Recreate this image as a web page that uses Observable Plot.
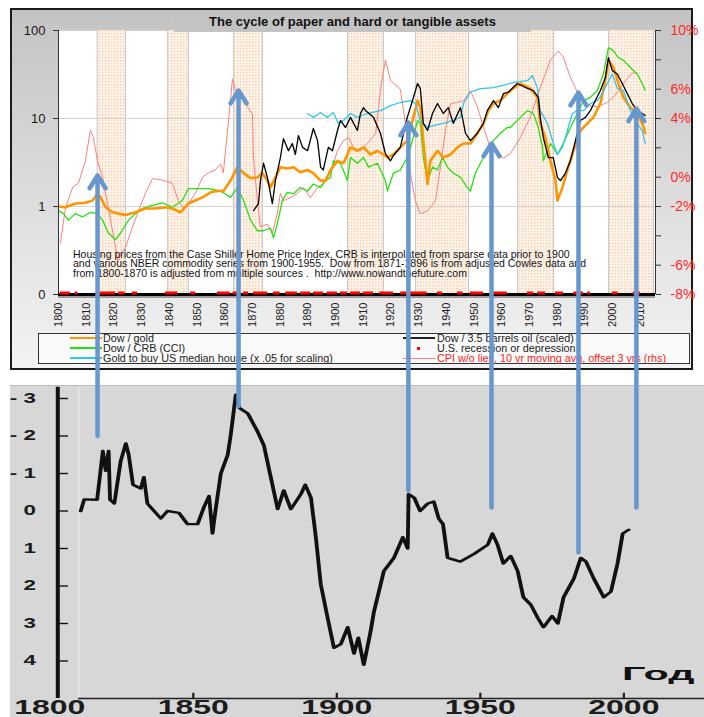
<!DOCTYPE html>
<html><head><meta charset="utf-8">
<script src="https://cdn.jsdelivr.net/npm/d3@7"></script>
<script src="https://cdn.jsdelivr.net/npm/@observablehq/plot@0.6"></script>
<style>
html,body{margin:0;padding:0;background:#fff;overflow:hidden;}
#root{position:relative;width:704px;height:717px;font-family:"Liberation Sans",Arial,sans-serif;}
.leg{font-size:10.8px;line-height:10px;color:#222;white-space:nowrap;}
</style></head><body><div id="root"></div>
<script>
// ---------- DATA (top chart) ----------
const decadeTicks = [1800,1810,1820,1830,1840,1850,1860,1870,1880,1890,1900,1910,1920,1930,1940,1950,1960,1970,1980,1990,2000,2010];
const leftTicks = [0.1, 1, 10, 100];
const leftTickLabels = ["0", "1", "10", "100"];
const cpiTicks = [-8,-6,-4,-2,0,2,4,6,8,10];

const bandStart = [1814,1839.4,1863.2,1904.3,1928.9,1965.7,1998.6];
const bandEnd   = [1824.2,1846.9,1873.6,1917.3,1948,1978.7,2014.8];

const recStart = [1800.7,1806,1815,1821.7,1826.7,1838.6,1847.7,1857.4,1863,1866.8,1870.4,1877.6,1882,1887.4,1892,1897,1901.8,1905.4,1910,1916,1923.5,1936.8,1944,1948.7,1956,1969.3,1973,1979.4,1986,1991,2000,2007.5];
const recEnd   = [1804.3,1807,1820.6,1824,1828.5,1843,1849.5,1862,1865,1868.6,1875.5,1880,1886.3,1891,1895.7,1900.7,1904.3,1909,1913.7,1921,1933,1938.6,1946,1953.4,1962,1971.5,1975.8,1982.3,1989.5,1992,2002,2010];

const orangeYears = [1800,1802.5,1806.1,1809.7,1812.3,1814.1,1815.2,1817,1819.5,1821.7,1824.2,1827.8,1831.4,1835,1838.6,1841.1,1844,1846.9,1849.4,1852,1854.9,1857.4,1859.5,1862.1,1864.6,1866.8,1869.3,1871.8,1873.6,1875.4,1876.5,1878.3,1880.1,1882.6,1884.8,1887.3,1889.9,1892,1894.6,1896.4,1898.2,1900.7,1902.9,1905.4,1907.9,1910.1,1912.6,1915.1,1917.3,1918.7,1920.9,1923.4,1925.9,1928.1,1929.6,1930.6,1931.7,1933.2,1934.2,1936.8,1938.9,1941.5,1944,1946.2,1948.7,1951.2,1953.4,1955.2,1957,1959.5,1962,1964.2,1966.7,1970.3,1972.9,1973.9,1975.7,1977.6,1979.4,1980.1,1981.9,1983.7,1985.9,1988.4,1990.9,1993.1,1995.6,1997.4,1998.5,2000.3,2002.1,2003.9,2006.4,2008.9,2010.7,2011.8];
const orangeValues = [1.0,0.98,1.08,1.1,1.17,1.4,1.27,0.98,0.86,0.83,0.8,0.86,0.95,0.95,0.98,0.95,0.86,1.08,1.17,1.27,1.45,1.5,1.5,1.97,2.8,2.4,2.1,2.14,2.4,1.97,1.64,2.14,2.8,2.7,2.8,2.45,2.6,2.4,1.97,1.97,2.6,3.3,3.1,4.7,4.3,4.7,3.9,4.3,3.9,3.6,3.9,4.7,5.6,10.3,16,13.3,5.6,1.8,3.3,4.3,3.6,3.9,4.7,5.2,5.2,6.8,8.8,12.3,14.8,16,19.2,22,25,22,17.4,8.8,6.1,3.3,1.97,1.17,1.64,2.6,4.3,7.3,8.8,10.3,14.8,27,46,38,25,17.4,13.3,11.4,8.8,6.8];

const greenYears = [1800,1801.8,1803.6,1806.1,1808.7,1811.5,1814.1,1815.9,1818,1820.6,1822.4,1825.3,1827.8,1830.3,1833.9,1837.5,1841.1,1844.7,1846.9,1850.5,1854.1,1858.5,1862.1,1864.6,1866.8,1869.3,1871.8,1874,1876.5,1877.6,1879,1880.8,1882.6,1884.8,1887.3,1889.9,1892,1894.6,1896.4,1898.2,1899.2,1901.8,1904.3,1905.4,1907.9,1910.1,1911.9,1915.1,1918,1918.7,1920.9,1923.4,1925.9,1928.1,1929.6,1930.6,1931.7,1933.2,1935,1936.8,1938.6,1940.4,1942.5,1945.1,1947.6,1948.7,1950.5,1952.3,1954.8,1957,1959.5,1962,1963.1,1966.7,1969.3,1971.4,1973.2,1974.7,1975,1977.6,1980.1,1982.2,1984.8,1987.3,1989.5,1992,1994.5,1996.7,1998.5,2000.3,2002.1,2003.9,2006.4,2008.9,2010.7,2011.8];
const greenValues = [0.9,0.83,0.7,0.83,0.76,0.86,0.83,0.7,0.5,0.42,0.5,0.7,0.83,0.95,1.03,1.1,0.98,1.17,1.6,1.6,1.6,1.5,1.27,1.64,1.17,0.7,0.53,0.53,0.57,0.44,0.64,1.17,1.45,1.4,1.64,1.5,1.8,1.64,1.97,2.14,3.3,3.1,1.97,3.6,3.1,3.6,2.8,3.1,1.97,1.5,2.4,2.6,3.6,6.1,9.5,8.8,3.6,1.97,2.8,2.6,3.6,2.8,2.4,2.14,1.64,1.5,2.4,3.1,4.3,5.6,6.8,7.9,7.9,10.3,12.3,11.4,7.9,4.7,3.3,5.2,3.9,5.2,7.9,11.4,16,17.4,20.8,32,64,59,49,46,38,32,25,20.8];

const blackYears = [1870.4,1872.2,1872.9,1874,1875.4,1876.5,1877.2,1878.3,1880.1,1881.2,1883,1884.4,1885.5,1886.6,1888.1,1889.9,1892,1893.5,1894.6,1895.6,1897.4,1898.9,1900.7,1901.8,1903.6,1905.4,1907.9,1909,1910.1,1910.8,1913.7,1916.2,1918,1919.8,1920.9,1923.4,1925.9,1927.8,1929.6,1930.6,1931.7,1933.2,1935,1936.8,1938.9,1940.7,1942.5,1945.1,1946.9,1948.7,1951.2,1953.4,1954.8,1957,1958.8,1960.6,1962.4,1965.6,1969.3,1971.4,1973.2,1973.9,1975,1976.8,1978.6,1980.1,1981.2,1983,1984.8,1986.6,1988.4,1990.2,1992,1993.8,1995.6,1997.4,1998.5,1999.9,2001.7,2003.5,2005.3,2007.1,2008.9,2010.7,2011.8];
const blackValues = [0.9,1.08,1.97,3.1,2.14,1.4,1.08,1.97,3.6,5.9,4.3,5.2,3.9,6.4,4.7,4.3,7.7,5.6,2.8,2.6,4.7,4.3,7.3,9.5,7.9,10.3,7.3,11.4,13.3,12.3,10.3,6.8,4.0,3.3,3.8,4.7,10.3,16,25,22,8.8,7.3,11.4,14.8,11.4,13.3,8.8,13.3,6.8,5.6,6.8,8.8,12.3,16,13.3,19.2,20,25,22,20.8,17.4,10.3,6.1,3.6,3.6,2.14,1.97,2.4,3.3,5.6,9.5,10.3,12.3,16,20.8,29.3,49,35,32,25,19.2,14.8,12.3,11.4,10.8];

const cyanYears = [1889.9,1892,1894.6,1897.1,1899.2,1901,1902.9,1905.4,1907.9,1911.5,1916.2,1919.8,1923.4,1927,1928.8,1930.6,1933.2,1935.3,1938.9,1942.5,1945.1,1946.2,1948.7,1952.3,1957,1963.1,1964.2,1969.3,1971.1,1972.9,1973.9,1976.5,1978.3,1980.1,1981.9,1983.7,1985.5,1987.3,1989.5,1992,1994.5,1996.3,1998.1,1999.9,2001.7,2003.9,2006.4,2008.9,2010.7,2011.8];
const cyanValues = [11.4,10.3,11.7,10.3,11.7,8.8,9.5,11.4,10.3,11.4,12.3,14,15.2,16,14.8,9.5,7.9,8.3,8.8,9.5,10.3,14.8,20,21.9,22.4,25,25.7,27,30.8,22,12.3,8.8,5.6,3.9,4.7,7.3,11.4,12.3,12.3,14.8,16,19.2,25,32,22,20.8,12.3,8.8,7.3,5.2];

const cpiYears = [1800.7,1802.5,1805.1,1807.2,1809.7,1811.5,1812.6,1814.1,1815.9,1818,1820.6,1821.5,1822.4,1824.2,1826.7,1828.9,1831.4,1833.9,1837.5,1841.1,1843.3,1845.1,1846.9,1849.4,1852,1854.1,1856.7,1858.5,1859.5,1861.3,1862.8,1863.9,1865.7,1868.2,1870,1870.4,1871.8,1872.9,1875.4,1877.2,1879,1880.1,1881.2,1883.7,1886.3,1888.4,1890.9,1893.5,1895.6,1898.2,1900.7,1902.9,1904.7,1906.5,1909,1911.5,1914.5,1916.2,1918,1919.8,1923.4,1925.2,1927,1928.8,1930.6,1933.2,1936.1,1937.9,1939.7,1941.5,1944,1946.2,1948.7,1951.2,1953.4,1955.9,1958.4,1960.6,1963.1,1966.7,1970.3,1973.9,1977.6,1980.4,1982.2,1984.8,1987.3,1990.9,1994.5,1998.1,2001,2003.9,2007.1,2008.2];
const cpiValues = [-4.5,-2.1,-0.7,-0.4,1.1,3.2,2.7,1.1,0,-2.1,-4.8,-5.8,-5.2,-4.8,-3.4,-2.3,-1.1,-0.1,-0.2,-0.4,-1.6,-2.1,-1.8,-1.1,0,0.3,0.5,0.9,0.3,3.7,6.7,5.9,5.7,4.8,4.3,1.3,-1.6,-3.4,-3.2,-3.8,-2.5,-1.1,-1.6,-1.4,-1.1,-0.7,-1.4,-0.7,-0.4,0.3,1.8,2.5,2.7,2.0,1.8,2.3,3.0,5.9,8.0,6.6,6.0,3.7,0.3,-1.6,-2.5,-2.3,-1.6,0.7,3.2,5.0,5.1,5.2,5.9,4.8,3.4,2.0,1.6,1.3,1.6,2.7,4.1,6.1,8.0,8.6,8.2,6.8,5.8,4.9,4.8,5.1,5.6,6.4,7.1,7.1];

// ---------- DATA (bottom chart) ----------
const bottomXTicks = [1800, 1850, 1900, 1950, 2000];
const bottomYTicks = [-3,-2,-1,0,1,2,3,4];
const bottomYears = [1810.8,1812,1816.5,1818.5,1819.5,1820.5,1821,1822.5,1824.7,1826.5,1827.5,1829,1831.7,1832.8,1834,1838.7,1841,1845,1848,1851.5,1853.7,1855.5,1856.7,1857.8,1859.6,1862,1863,1864.8,1866,1869,1872.5,1874.6,1877,1879.4,1881.5,1884,1887.5,1889,1891,1892.7,1894.4,1896.8,1899,1901.4,1903.8,1906,1907.5,1909.4,1911.8,1912.9,1916.4,1919.9,1923,1924.7,1925,1927,1929,1931.7,1933.8,1935.5,1937,1938.6,1943,1947.7,1952.6,1954.2,1956,1958,1960.6,1963,1965,1967.6,1970,1972,1975,1977,1979,1982.6,1985,1986.8,1989.5,1993,1995.5,1997.8,1999.6,2001.7];
const bottomValues = [0,-0.31,-0.3,-1.6,-1.07,-1.6,-0.3,-0.2,-1.33,-1.8,-1.5,-0.7,-0.6,-0.9,-0.2,0.2,0,0.05,0.35,0.35,-0.1,-0.4,0.6,-0.05,-1.0,-1.5,-2.0,-3.1,-2.75,-2.6,-2.1,-1.75,-0.9,-0.05,-0.55,-0.05,-0.45,-0.7,-0.35,0.7,1.95,2.85,3.65,3.55,3.1,3.8,3.38,4.1,3.2,2.7,1.6,1.25,0.7,1.0,-0.45,-0.35,0,-0.2,-0.25,0.2,0.35,1.25,1.35,1.15,0.9,0.6,0.9,1.4,1.2,1.6,2.3,2.5,2.85,3.1,2.8,3.0,2.3,1.8,1.25,1.35,1.8,2.3,2.15,1.4,0.6,0.5];

// ---------- DATA (arrows linking both charts) ----------
const arrowYears = [1814.1, 1865.0, 1926.3, 1956.3, 1987.7, 2008.6];   // top-chart years
const arrowTips  = [2.25, 20.8, 9.0, 5.2, 19.7, 13];                  // top-chart (log) values
const arrowBases = [-2.0, -2.8, -0.55, -0.1, 1.1, -0.1];              // bottom-chart values

// ---------- helpers ----------
const pts = (xs, ys) => xs.slice(0, Math.min(xs.length, ys.length)).map((x, i) => ({x, y: ys[i]}));
const toLog = p => Math.pow(10, -1 + (p + 8) / 6);          // rhs % -> lhs log position
const fromLog = v => Math.round((Math.log10(v) + 1) * 6 - 8);
const FONT = "Liberation Sans, Arial, sans-serif";
const root = document.getElementById("root");
function div(style, html, cls) { const d = document.createElement("div"); if (cls) d.className = cls; d.style.cssText = "position:absolute;" + style; if (html != null) d.innerHTML = html; root.appendChild(d); return d; }

// ---------- top panel background ----------
div("left:10px;top:8px;width:683px;height:362px;box-sizing:border-box;border:2px solid #1b1b1b;background:linear-gradient(to bottom,#c3c3c3 0%,#d9d9d9 45%,#f3f3f3 100%);");

// ---------- top chart ----------
const topChart = Plot.plot({
  width: 704, height: 330,
  marginLeft: 58, marginRight: 49, marginTop: 30, marginBottom: 36,
  x: {domain: [1800, 2015.5]},
  y: {type: "log", domain: [0.1, 100]},
  style: {background: "transparent", fontFamily: FONT, color: "#1a1a1a", overflow: "visible"},
  marks: [
    Plot.frame({fill: "white", stroke: "#d0d0d0"}),
    Plot.rect(bandStart, {x1: d => d, x2: (d, i) => bandEnd[i], fill: "#fbe8d6"}),
    Plot.ruleX(bandStart.concat(bandEnd), {stroke: "#c6c6c6", strokeWidth: 1}),
    Plot.ruleY([1, 10], {stroke: "#d2d2d2"}),
    Plot.line(pts(cpiYears, cpiValues), {x: "x", y: d => toLog(d.y), stroke: "#ff7d7d", strokeWidth: 1}),
    Plot.line(pts(greenYears, greenValues), {x: "x", y: "y", stroke: "#25e010", strokeWidth: 1.3}),
    Plot.line(pts(orangeYears, orangeValues), {x: "x", y: "y", stroke: "#ff9500", strokeWidth: 2.6}),
    Plot.line(pts(cyanYears, cyanValues), {x: "x", y: "y", stroke: "#2ec6f2", strokeWidth: 1.3}),
    Plot.line(pts(blackYears, blackValues), {x: "x", y: "y", stroke: "#000", strokeWidth: 1.3}),
    Plot.ruleX([1800], {stroke: "#333"}),
    Plot.ruleX([2015.5], {stroke: "#333"}),
    Plot.ruleY([0.1], {stroke: "#9a9a9a", strokeWidth: 2, dy: 2.5}),
    Plot.ruleY([0.1], {stroke: "#000", strokeWidth: 3}),
    Plot.ruleY(recStart, {x1: d => d, x2: (d, i) => recEnd[i], y: 0.1, dy: -1.5, stroke: "#ff0000", strokeWidth: 3}),
    Plot.axisY(leftTicks, {anchor: "left", label: null, tickSize: 5, tickPadding: 8, fontSize: 13, tickFormat: d => leftTickLabels[leftTicks.indexOf(d)], stroke: "#333", fill: "#1a1a1a"}),
    Plot.axisY(cpiTicks.map(toLog), {anchor: "right", label: null, tickSize: 5, tickPadding: 10, fontSize: 14, tickFormat: d => fromLog(d) + "%", stroke: "#333", fill: "#ff2a2a"}),
    Plot.axisX(decadeTicks, {anchor: "bottom", label: null, tickRotate: -90, tickSize: 0, tickPadding: 8, fontSize: 11, tickFormat: d => `${d}`, fill: "#222"})
  ]
});
topChart.style.position = "absolute"; topChart.style.left = "0px"; topChart.style.top = "0px";
root.appendChild(topChart);
// dotted texture for the shaded bands
(function () {
  const ns = "http://www.w3.org/2000/svg";
  const defs = document.createElementNS(ns, "defs");
  defs.innerHTML = '<pattern id="dots" width="3" height="3" patternUnits="userSpaceOnUse"><rect width="3" height="3" fill="#fdf3ea"/><rect width="1.3" height="1.3" fill="#f7cda6"/></pattern>';
  topChart.insertBefore(defs, topChart.firstChild);
  topChart.querySelectorAll('g[aria-label="rect"] rect').forEach(r => r.setAttribute("fill", "url(#dots)"));
})();

// title
div("left:174px;top:11px;width:357px;height:21px;background:#c3c3c3;font:bold 13px " + FONT + ";line-height:21px;text-align:center;color:#111;",
    "The cycle of paper and hard or tangible assets");
// note
div("left:73px;top:250px;font-size:10.5px;line-height:9.4px;color:#141414;white-space:pre;",
    "Housing prices from the Case Shiller Home Price Index, CRB is interpolated from sparse data prior to 1900\nand various NBER commodity series from 1900-1955.  Dow from 1871-1896 is from adjusted Cowles data and\nfrom 1800-1870 is adjusted from multiple sources .  http://www.nowandthefuture.com");

// legend
div("left:38px;top:333px;width:652px;height:31px;box-sizing:border-box;border:1px solid #333;background:rgba(255,255,255,0.6);");
const legendRows = [338, 348, 358];
const legendLeft = [["Dow / gold", "#ff9500", 1.6], ["Dow / CRB (CCI)", "#25e010", 1.3], ["Gold to buy US median house (x .05 for scaling)", "#2ec6f2", 1.3]];
legendLeft.forEach(([t, c, w], i) => {
  div(`left:70px;top:${legendRows[i] - w / 2}px;width:32px;height:${w}px;background:${c};`);
  div(`left:103px;top:${legendRows[i] - 5}px;`, t, "leg");
});
div(`left:403px;top:${legendRows[0] - 0.6}px;width:32px;height:1.2px;background:#222;`);
div(`left:437px;top:${legendRows[0] - 5}px;`, "Dow / 3.5 barrels oil (scaled)", "leg");
div(`left:417px;top:${legendRows[1] - 1.5}px;width:3px;height:3px;background:#ff0000;`);
div(`left:437px;top:${legendRows[1] - 5}px;`, "U.S. recession or depression", "leg");
div(`left:403px;top:${legendRows[2] - 0.5}px;width:32px;height:1px;background:#ff7d7d;`);
div(`left:437px;top:${legendRows[2] - 5}px;color:#ff1a1a;`, "CPI w/o lies, 10 yr moving avg, offset 3 yrs (rhs)", "leg");

// ---------- bottom chart (drawn narrow, stretched horizontally like the source) ----------
const STRETCH = 1.6, BOTTOM_TOP = 385;
div(`left:10px;top:${BOTTOM_TOP}px;width:694px;height:332px;background:#d7d7d7;border-top:1px solid #bdbdbd;box-sizing:border-box;`);
const spineYear = 1802.8, plotStartYear = 1810.1;
const bottomChart = Plot.plot({
  width: 440, height: 332,
  marginLeft: 30.6, marginRight: 0, marginTop: 1.75, marginBottom: 19,
  x: {domain: [1800, 2028.2]},
  y: {domain: [-3.3, 5.0], reverse: true},
  style: {background: "transparent", fontFamily: FONT, color: "#151515", overflow: "visible"},
  marks: [
    Plot.ruleX([plotStartYear], {stroke: "#e6e6e6", strokeWidth: 1}),
    Plot.ruleY([5.0], {x1: plotStartYear, x2: 2028.2, stroke: "#222", strokeWidth: 1.3}),
    Plot.ruleX(bottomXTicks.slice(1), {y1: 5.0, y2: 4.86, stroke: "#222", strokeWidth: 1.4}),
    Plot.axisX(bottomXTicks, {anchor: "bottom", label: null, tickSize: 0, tickPadding: 1, fontSize: 20, fontWeight: "bold", tickFormat: d => `${d}`, fill: "#1c1c1c"}),
    Plot.ruleX([spineYear], {stroke: "#111", strokeWidth: 2.5}),
    Plot.ruleY(bottomYTicks, {x1: spineYear, x2: spineYear + 3.8, stroke: "#111", strokeWidth: 1.4}),
    Plot.axisY(bottomYTicks, {anchor: "left", label: null, tickSize: 0, tickPadding: 8.7, fontSize: 14, fontWeight: "bold", tickFormat: d => d < 0 ? "- " + (-d) : `${d}`, fill: "#1c1c1c"}),
    Plot.line(pts(bottomYears, bottomValues), {x: "x", y: "y", stroke: "#111", strokeWidth: 2.4})
  ]
});
bottomChart.style.position = "absolute"; bottomChart.style.left = "0px"; bottomChart.style.top = BOTTOM_TOP + "px";
bottomChart.style.transformOrigin = "0 0"; bottomChart.style.transform = `scaleX(${STRETCH})`; bottomChart.style.maxWidth = "none";
root.appendChild(bottomChart);
div(`left:622px;top:665px;font:bold 18px ${FONT};line-height:18px;color:#111;transform-origin:0 0;transform:scaleX(2.3);`, "Год");

// ---------- arrows overlay (positions taken from both charts' scales) ----------
const tx = topChart.scale("x"), ty = topChart.scale("y"), by = bottomChart.scale("y");
const arrowData = arrowYears.map((yr, i) => ({x: tx.apply(yr), yBase: BOTTOM_TOP + by.apply(arrowBases[i]), yTip: ty.apply(arrowTips[i])}));
const overlay = Plot.plot({
  width: 704, height: 717, margin: 0,
  x: {type: "identity", axis: null}, y: {type: "identity", axis: null},
  style: {background: "transparent", pointerEvents: "none"},
  marks: [Plot.arrow(arrowData, {x1: "x", y1: "yBase", x2: "x", y2: "yTip", stroke: "#6697cf", strokeWidth: 4.5, headLength: 5, headAngle: 64})]
});
overlay.style.position = "absolute"; overlay.style.left = "0px"; overlay.style.top = "0px";
root.appendChild(overlay);
</script></body></html>
